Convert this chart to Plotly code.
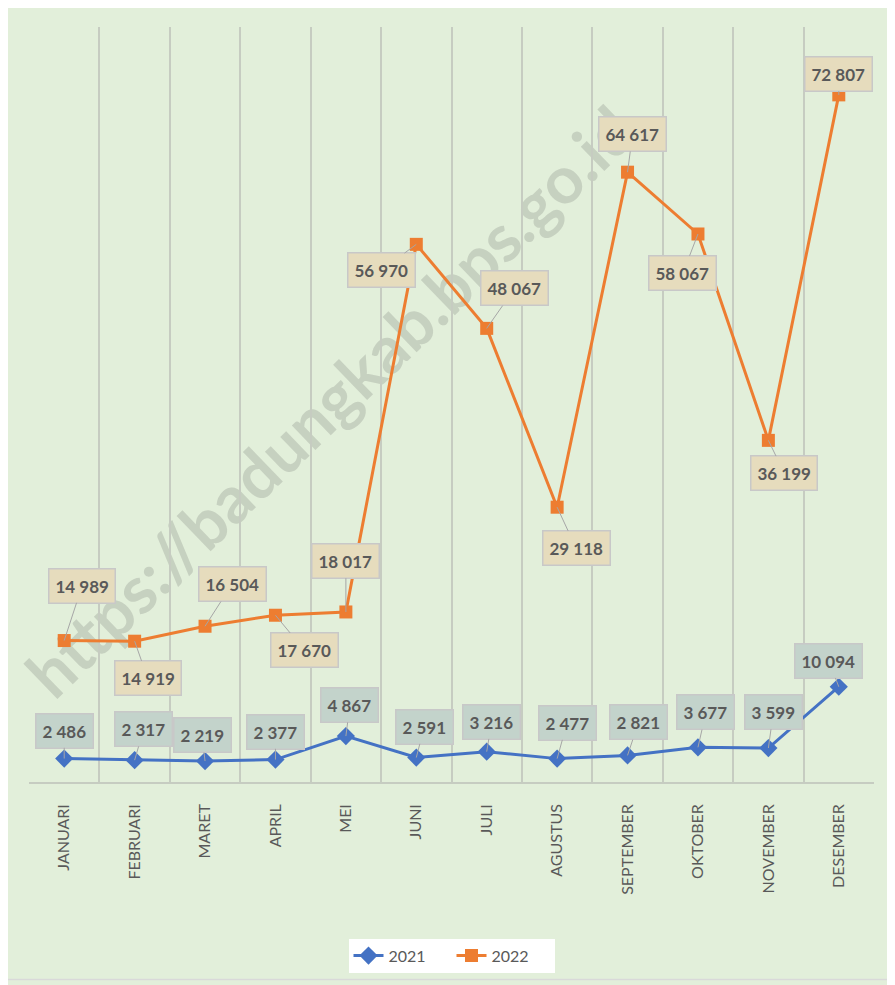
import plotly.graph_objects as go

months = ["JANUARI", "FEBRUARI", "MARET", "APRIL", "MEI", "JUNI", "JULI",
          "AGUSTUS", "SEPTEMBER", "OKTOBER", "NOVEMBER", "DESEMBER"]
v2021 = [2486, 2317, 2219, 2377, 4867, 2591, 3216, 2477, 2821, 3677, 3599, 10094]
v2022 = [14989, 14919, 16504, 17670, 18017, 56970, 48067, 29118, 64617, 58067, 36199, 72807]
labels2021 = ["2 486", "2 317", "2 219", "2 377", "4 867", "2 591", "3 216",
              "2 477", "2 821", "3 677", "3 599", "10 094"]
labels2022 = ["14 989", "14 919", "16 504", "17 670", "18 017", "56 970", "48 067",
              "29 118", "64 617", "58 067", "36 199", "72 807"]
# label box offsets in pixels (dx, dy) relative to the point
off2021 = [(0, -28), (9, -31), (-3, -26), (0, -28), (4, -31), (8, -31), (5, -30),
           (10, -36), (11, -33), (8, -35), (5, -36), (-10, -26)]
off2022 = [(18, -55), (13, 37), (27, -42), (29, 35), (0, -51), (-35, 26), (28, -40),
           (19, 41), (5, -38), (-15, 39), (16, 33), (0, -21)]

BG = "#e2efda"
C21 = "#4472c4"
C22 = "#ed7d31"
TXT = "#595959"
GRID = "#c6ccc1"

fig = go.Figure()
fig.add_trace(go.Scatter(x=months, y=v2021, name="2021", mode="lines+markers",
                         line=dict(color=C21, width=3),
                         marker=dict(symbol="diamond", size=14, color=C21)))
fig.add_trace(go.Scatter(x=months, y=v2022, name="2022", mode="lines+markers",
                         line=dict(color=C22, width=3),
                         marker=dict(symbol="square", size=13, color=C22)))

annotations = []
for m, v, t, (dx, dy) in zip(months, v2021, labels2021, off2021):
    annotations.append(dict(x=m, y=v, text="<b>%s</b>" % t, ax=dx, ay=dy,
                            showarrow=True, arrowhead=0, arrowwidth=1, arrowcolor="#a6a6a6",
                            standoff=0, bgcolor="#c3d3cb", bordercolor="#c8c8c8",
                            borderwidth=1.5, borderpad=6,
                            font=dict(family="Lato", size=17, color=TXT)))
for m, v, t, (dx, dy) in zip(months, v2022, labels2022, off2022):
    annotations.append(dict(x=m, y=v, text="<b>%s</b>" % t, ax=dx, ay=dy,
                            showarrow=True, arrowhead=0, arrowwidth=1, arrowcolor="#a6a6a6",
                            standoff=0, bgcolor="#e6dcbd", bordercolor="#c8c8c8",
                            borderwidth=1.5, borderpad=6,
                            font=dict(family="Lato", size=17, color=TXT)))

fig.update_layout(
    width=887, height=977,
    margin=dict(l=21, r=21, t=19, b=201),
    paper_bgcolor=BG, plot_bgcolor=BG,
    showlegend=True,
    legend=dict(orientation="h", x=0.5, xanchor="center", y=-0.23, yanchor="middle",
                bgcolor="white", font=dict(family="Lato", size=16, color=TXT),
                entrywidth=58, borderwidth=0),
    annotations=annotations,
    hovermode=False,
    shapes=[
        dict(type="line", xref="paper", yref="paper",
             x0=0.0, y0=0.123, x1=0.71, y1=0.889, layer="between",
             line=dict(color="rgba(0,0,0,0)", width=0),
             label=dict(text="<b>https://badungkab.bps.go.id</b>", textangle=-44,
                        textposition="middle", yanchor="middle", padding=0,
                        font=dict(family="Lato", size=66, color="rgba(90,90,90,0.2)"))),
        dict(type="rect", xref="paper", yref="paper",
             x0=-24 / 845, x1=1 + 20 / 845, y0=-198 / 757, y1=1 + 25 / 757,
             line=dict(color="#d9d9d9", width=1.5), layer="below"),
    ],
)
fig.update_xaxes(type="category", tickson="boundaries", showgrid=True, gridcolor=GRID,
                 gridwidth=1.5, showline=True, linecolor=GRID, linewidth=1.5,
                 tickangle=-90, ticks="", ticklabelstandoff=14,
                 tickfont=dict(family="Lato", size=16, color=TXT),
                 range=[-0.5, 11.5], zeroline=False)
fig.update_yaxes(range=[0, 80000], showgrid=False, showticklabels=False,
                 zeroline=False, showline=False)

fig.write_html("out.html")
